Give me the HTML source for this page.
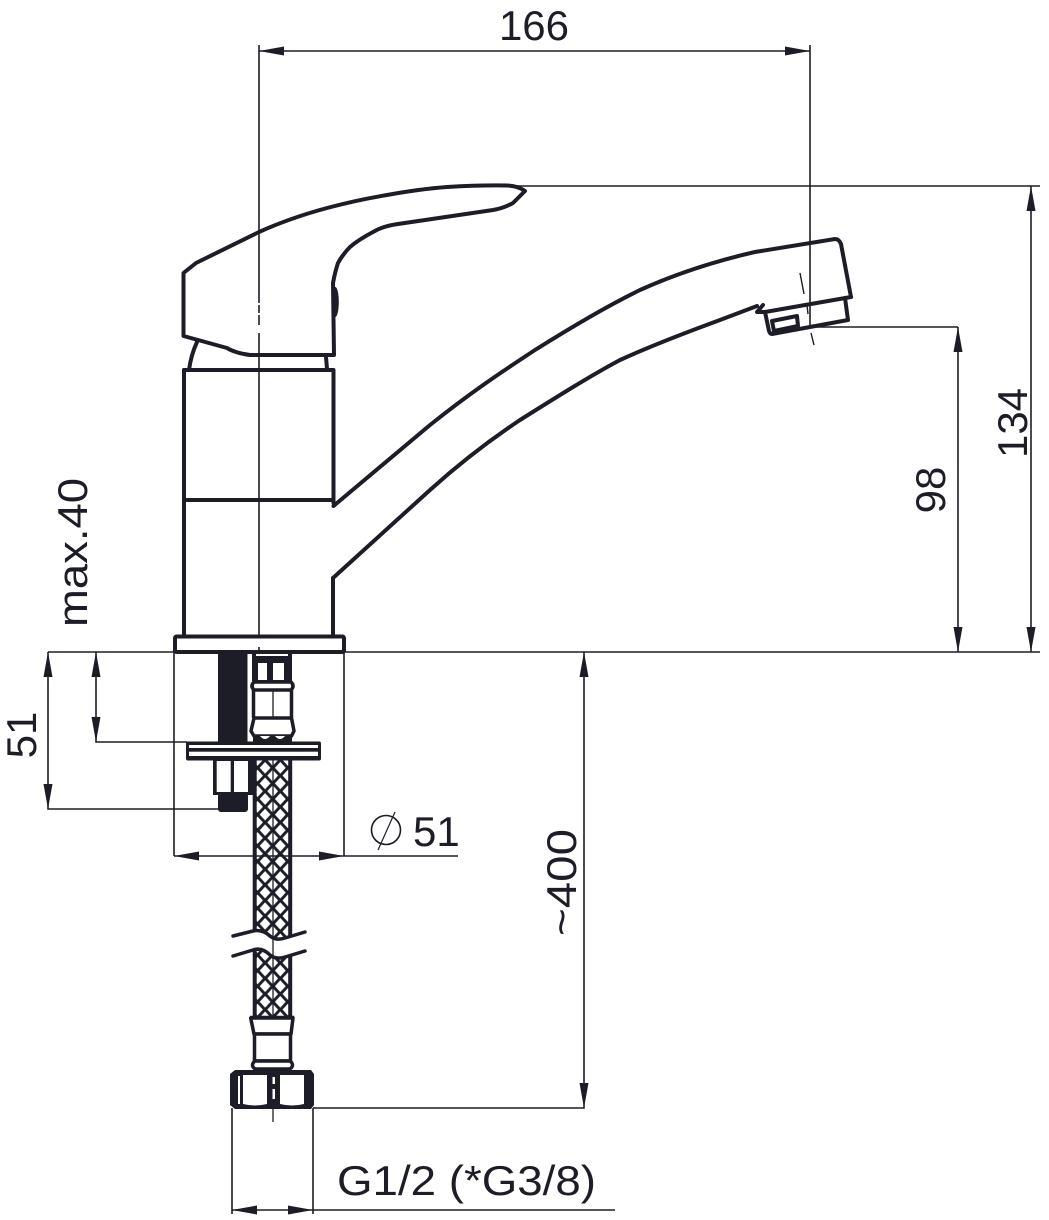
<!DOCTYPE html>
<html>
<head>
<meta charset="utf-8">
<style>
html,body{margin:0;padding:0;background:#fff}
svg{display:block}
text{font-family:"Liberation Sans",sans-serif;fill:#1d1d28;font-size:42px}
</style>
</head>
<body>
<svg width="1049" height="1220" viewBox="0 0 1049 1220" xmlns="http://www.w3.org/2000/svg">
<defs>
<pattern id="braid" patternUnits="userSpaceOnUse" x="257.500" y="760" width="15.200" height="15.600">
<rect width="15.200" height="15.600" fill="#1d1d28"/>
<polygon points="7.600,2 13,7.800 7.600,13.600 2.200,7.800" fill="#fff"/>
<polygon points="0,-5.800 5.400,0 0,5.800 -5.400,0" fill="#fff"/>
<polygon points="15.200,-5.800 20.600,0 15.200,5.800 9.800,0" fill="#fff"/>
<polygon points="0,9.800 5.400,15.600 0,21.400 -5.400,15.600" fill="#fff"/>
<polygon points="15.200,9.800 20.600,15.600 15.200,21.400 9.800,15.600" fill="#fff"/>
</pattern>
</defs>

<!-- braid -->
<rect x="253" y="758" width="39" height="260" fill="url(#braid)"/>
<path d="M254.700 758V1018M290.200 758V1018" stroke="#1d1d28" stroke-width="4" fill="none"/>
<!-- break -->
<path d="M228 936L253 931Q262 929 270 936Q276 941 285 938L310 931V952L285 958Q276 960 270 955Q262 948 253 950L228 957Z" fill="#fff"/>
<g fill="none" stroke="#1d1d28" stroke-width="3.500" stroke-linecap="round" stroke-linejoin="round">
<path d="M233 936L253 931Q262 929 270 936Q276 941 285 938L305 932"/>
<path d="M233 956L253 950Q262 947 270 955Q276 960 285 957L305 951"/>
</g>

<!-- thin dimension lines -->
<g fill="none" stroke="#1d1d28" stroke-width="1.600">
<path d="M259 51H810"/>
<path d="M259 45V303M259 305V313M259 315V325M259 333V383"/>
<path d="M259 383V636M259 647V667"/>
<path d="M810 45V327"/>
<path d="M507 186H1040"/>
<path d="M1031 186V652"/>
<path d="M812 327H958"/>
<path d="M958 327V652"/>
<path d="M48 652H1040"/>
<path d="M96 652V742H187"/>
<path d="M48 652V809H219"/>
<path d="M174 652V856M344 652V856"/>
<path d="M174 856H458"/>
<path d="M584 652V1108H313"/>
<path d="M232 1108V1214M313 1108V1214"/>
<path d="M232 1210H615"/>
<path d="M273 690V1122" stroke-width="1.300"/>
<path d="M800 273L804 294M807 305L808 314M811 333L814 345" stroke-width="1.400"/>
<path d="M378 850L395 812" stroke-width="1.200"/>
</g>
<circle cx="386" cy="830" r="14.500" fill="none" stroke="#1d1d28" stroke-width="1.600"/>

<!-- arrowheads -->
<g fill="#1d1d28">
<polygon points="259,51 284,46.500 284,55.500"/>
<polygon points="810,51 785,46.500 785,55.500"/>
<polygon points="1031,186 1026.500,211 1035.500,211"/>
<polygon points="1031,652 1026.500,627 1035.500,627"/>
<polygon points="958,327 953.500,352 962.500,352"/>
<polygon points="958,652 953.500,627 962.500,627"/>
<polygon points="96,652 91.500,677 100.500,677"/>
<polygon points="96,742 91.500,717 100.500,717"/>
<polygon points="48,652 43.500,677 52.500,677"/>
<polygon points="48,809 43.500,784 52.500,784"/>
<polygon points="174,856 199,851.500 199,860.500"/>
<polygon points="344,856 319,851.500 319,860.500"/>
<polygon points="584,652 579.500,677 588.500,677"/>
<polygon points="584,1108 579.500,1083 588.500,1083"/>
<polygon points="232,1210 257,1205.500 257,1214.500"/>
<polygon points="313,1210 288,1205.500 288,1214.500"/>
</g>

<!-- faucet outline -->
<g fill="none" stroke="#1d1d28" stroke-width="4" stroke-linejoin="round" stroke-linecap="round">
<path d="M183.500 336V273L196 263L259 232Q290 218 327 208Q357 200 387 195Q420 189 447 187Q480 185 507 185.500Q518 186 525 191L513 203Q504 208 493 210L398 224Q383 226 373 232Q358 240 350 247Q343 254 338 263Q335 272 333 283L334 355H260L250 355Q235 353 227 348L183.500 336Z"/>
<path d="M197 342Q191 355 189 370M326 357L327 369"/>
<path d="M184 370H333"/>
<path d="M184 370V636M333.500 370V503"/>
<path d="M185 500H333"/>
<path d="M333 578V636"/>
<path d="M333.500 506L430 425C470 393 500 373 535 350C570 328 605 307 640 290C680 272 720 260 755 252L835 239Q839 239 841 244L851 297"/>
<path d="M333 578L430 490C460 463 490 440 520 420C555 398 590 376 620 360C655 344 690 331 720 320L757 306"/>
<path d="M763 305L757 312H765L851 297"/>
<path d="M845 298L848 320L772 334Q770 334 769 331L765 312"/>
<path d="M772 321L797 316L798 326L774 331Z"/>
<rect x="175" y="636.500" width="169" height="15.500" rx="1.500"/>
</g>
<ellipse cx="335.300" cy="302" rx="3.500" ry="15" fill="#1d1d28"/>

<!-- mounting rod -->
<rect x="218" y="652" width="29.500" height="90" fill="#1d1d28"/>
<rect x="213" y="760" width="40" height="35" fill="#1d1d28"/>
<rect x="216.700" y="761" width="14" height="31" fill="#fff"/>
<rect x="234" y="761" width="14" height="31" fill="#fff"/>
<rect x="218" y="793" width="30" height="19" rx="3" fill="#1d1d28"/>

<!-- plate -->
<rect x="186" y="741.500" width="135" height="19" rx="2" fill="#1d1d28"/>
<rect x="189" y="745" width="129" height="3" fill="#fff"/>
<rect x="189" y="751.700" width="129" height="4.300" fill="#fff"/>

<!-- upper fitting -->
<rect x="252" y="652" width="40" height="29" fill="#1d1d28"/>
<rect x="256" y="654" width="32" height="2" fill="#fff"/>
<rect x="258" y="663" width="9" height="17" fill="#fff"/>
<rect x="273" y="663" width="11" height="17" fill="#fff"/>
<g fill="#fff" stroke="#1d1d28" stroke-width="3.500" stroke-linejoin="round">
<path d="M254 682H291Q295 686 291 690H254Q250 686 254 682Z"/>
<path d="M253.500 690V718M291.500 690V718"/>
<path d="M254 718H291.500L294 731L291.500 736H254L251 731Z"/>
</g>
<rect x="253" y="735" width="39" height="7" fill="#1d1d28"/>
<path d="M260 736Q265 742 270 736ZM275 736Q280 742 285 736Z" fill="#fff"/>

<!-- lower fitting -->
<g fill="#fff" stroke="#1d1d28" stroke-width="3.500" stroke-linejoin="round">
<path d="M250 1017.500H294"/>
<path d="M250.700 1018L254 1034H291L293 1018Z"/>
<path d="M254.500 1034V1061H290.500V1034Z"/>
<path d="M255 1061H290Q295 1065 290 1069H255Q250 1065 255 1061Z"/>
</g>

<!-- nut -->
<path d="M235 1070H311L314 1074V1105L311 1109H235L230 1105V1074Z" fill="#1d1d28"/>
<path d="M243 1075H267V1104Q255 1107 243 1104Z" fill="#fff"/>
<path d="M280 1075H304V1104Q292 1107 280 1104Z" fill="#fff"/>
<rect x="238" y="1076" width="2" height="28" fill="#fff"/>
<rect x="272.500" y="1077" width="2.500" height="7" fill="#fff"/>
<rect x="272.500" y="1089" width="2.500" height="10" fill="#fff"/>

<!-- labels -->
<text x="534" y="40" text-anchor="middle">166</text>
<text transform="translate(1027,423) rotate(-90)" text-anchor="middle">134</text>
<text transform="translate(945,490) rotate(-90)" text-anchor="middle">98</text>
<text transform="translate(87,478) rotate(-90) translate(-149,0)" textLength="149" lengthAdjust="spacingAndGlyphs">max.40</text>
<text transform="translate(36,735) rotate(-90)" text-anchor="middle">51</text>
<text transform="translate(576,936) rotate(-90)" textLength="107" lengthAdjust="spacingAndGlyphs">~400</text>
<text x="413" y="846">51</text>
<text x="337" y="1195" textLength="259" lengthAdjust="spacingAndGlyphs">G1/2 (*G3/8)</text>
</svg>
</body>
</html>
